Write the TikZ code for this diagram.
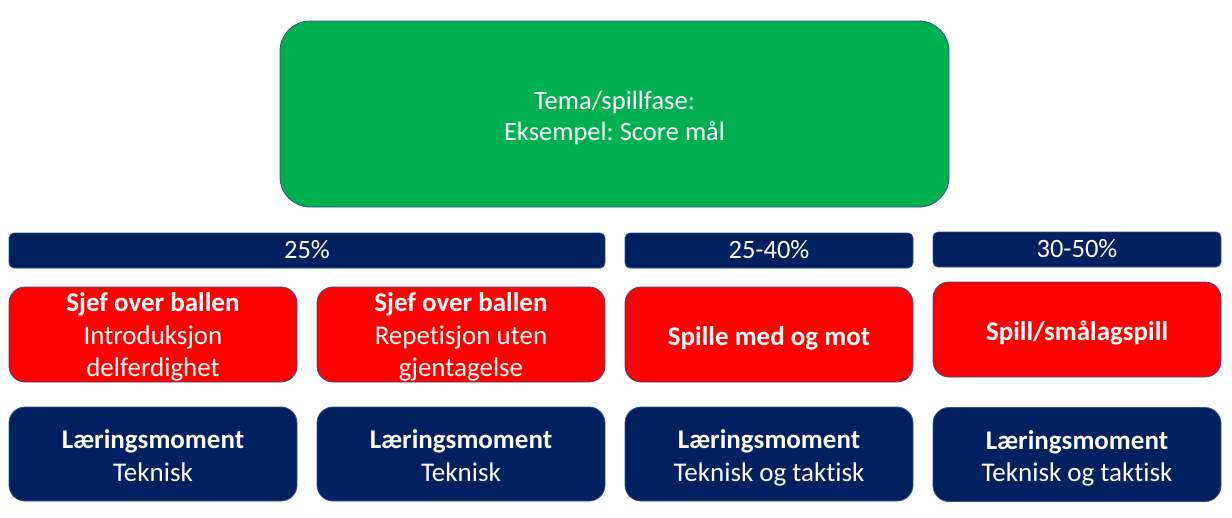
\documentclass[tikz,border=0pt]{standalone}
\usepackage{fontspec}
\setmainfont{Carlito}[Ligatures=NoCommon]
\frenchspacing
\definecolor{navy}{HTML}{002060}
\definecolor{grn}{HTML}{00B050}
\definecolor{rd}{HTML}{FF0000}
\definecolor{edgeblue}{HTML}{2F528F}
\newcommand\tstrut{\rule[-7pt]{0pt}{35.5pt}}
\newcommand\bstrut{\rule[-7pt]{0pt}{30pt}}
\begin{document}
\begin{tikzpicture}[x=1pt,y=-1pt,
  box/.style={draw=edgeblue, line width=0.8pt, text=white, align=center, inner sep=0pt,
    font=\fontsize{27}{32.5}\selectfont,
    execute at begin node=\tstrut, execute at end node=\tstrut},
  bar/.style={draw=edgeblue, line width=0.8pt, text=white, align=center, inner sep=0pt,
    fill=navy, rounded corners=5pt, minimum width=288pt, minimum height=35pt,
    font=\fontsize{26.5}{30}\selectfont,
    execute at begin node=\bstrut, execute at end node=\bstrut},
  redbox/.style={box, fill=rd, rounded corners=16pt, minimum width=288pt, minimum height=95pt},
  threeline/.style={text height=86pt, text depth=1.5pt},
  bluebox/.style={box, fill=navy, rounded corners=16pt, minimum width=288pt, minimum height=94pt},
]
\useasboundingbox (0,0) rectangle (1232,517);
\node[box, fill=grn, rounded corners=30pt, minimum width=669pt, minimum height=186pt,
  font=\fontsize{26.5}{31}\selectfont] (tema) at (614.5,114) {\tstrut Tema/spillfase:\\Eksempel: Score mål};

\node[bar, minimum width=596pt] (p1) at (307,250.5) {25\%};
\node[bar] (p2) at (769,250.5) {25-40\%};
\node[bar] (p3) at (1077,249.5) {30-50\%};

\node[redbox, threeline] (r1) at (153,334.5) {\tstrut\textbf{Sjef over ballen}\\Introduksjon\\delferdighet};
\node[redbox, threeline] (r2) at (461,334.5) {\tstrut\textbf{Sjef over ballen}\\Repetisjon uten\\gjentagelse};
\node[redbox] (r3) at (769,334.5) {\textbf{Spille med og mot}};
\node[redbox] (r4) at (1077,329.5) {\textbf{Spill/smålagspill}};

\node[bluebox] (b1) at (153,454) {\tstrut\textbf{Læringsmoment}\\Teknisk};
\node[bluebox] (b2) at (461,454) {\tstrut\textbf{Læringsmoment}\\Teknisk};
\node[bluebox] (b3) at (769,454) {\tstrut\textbf{Læringsmoment}\\Teknisk og taktisk};
\node[bluebox] (b4) at (1077,454.5) {\tstrut\textbf{Læringsmoment}\\Teknisk og taktisk};
\end{tikzpicture}
\end{document}
